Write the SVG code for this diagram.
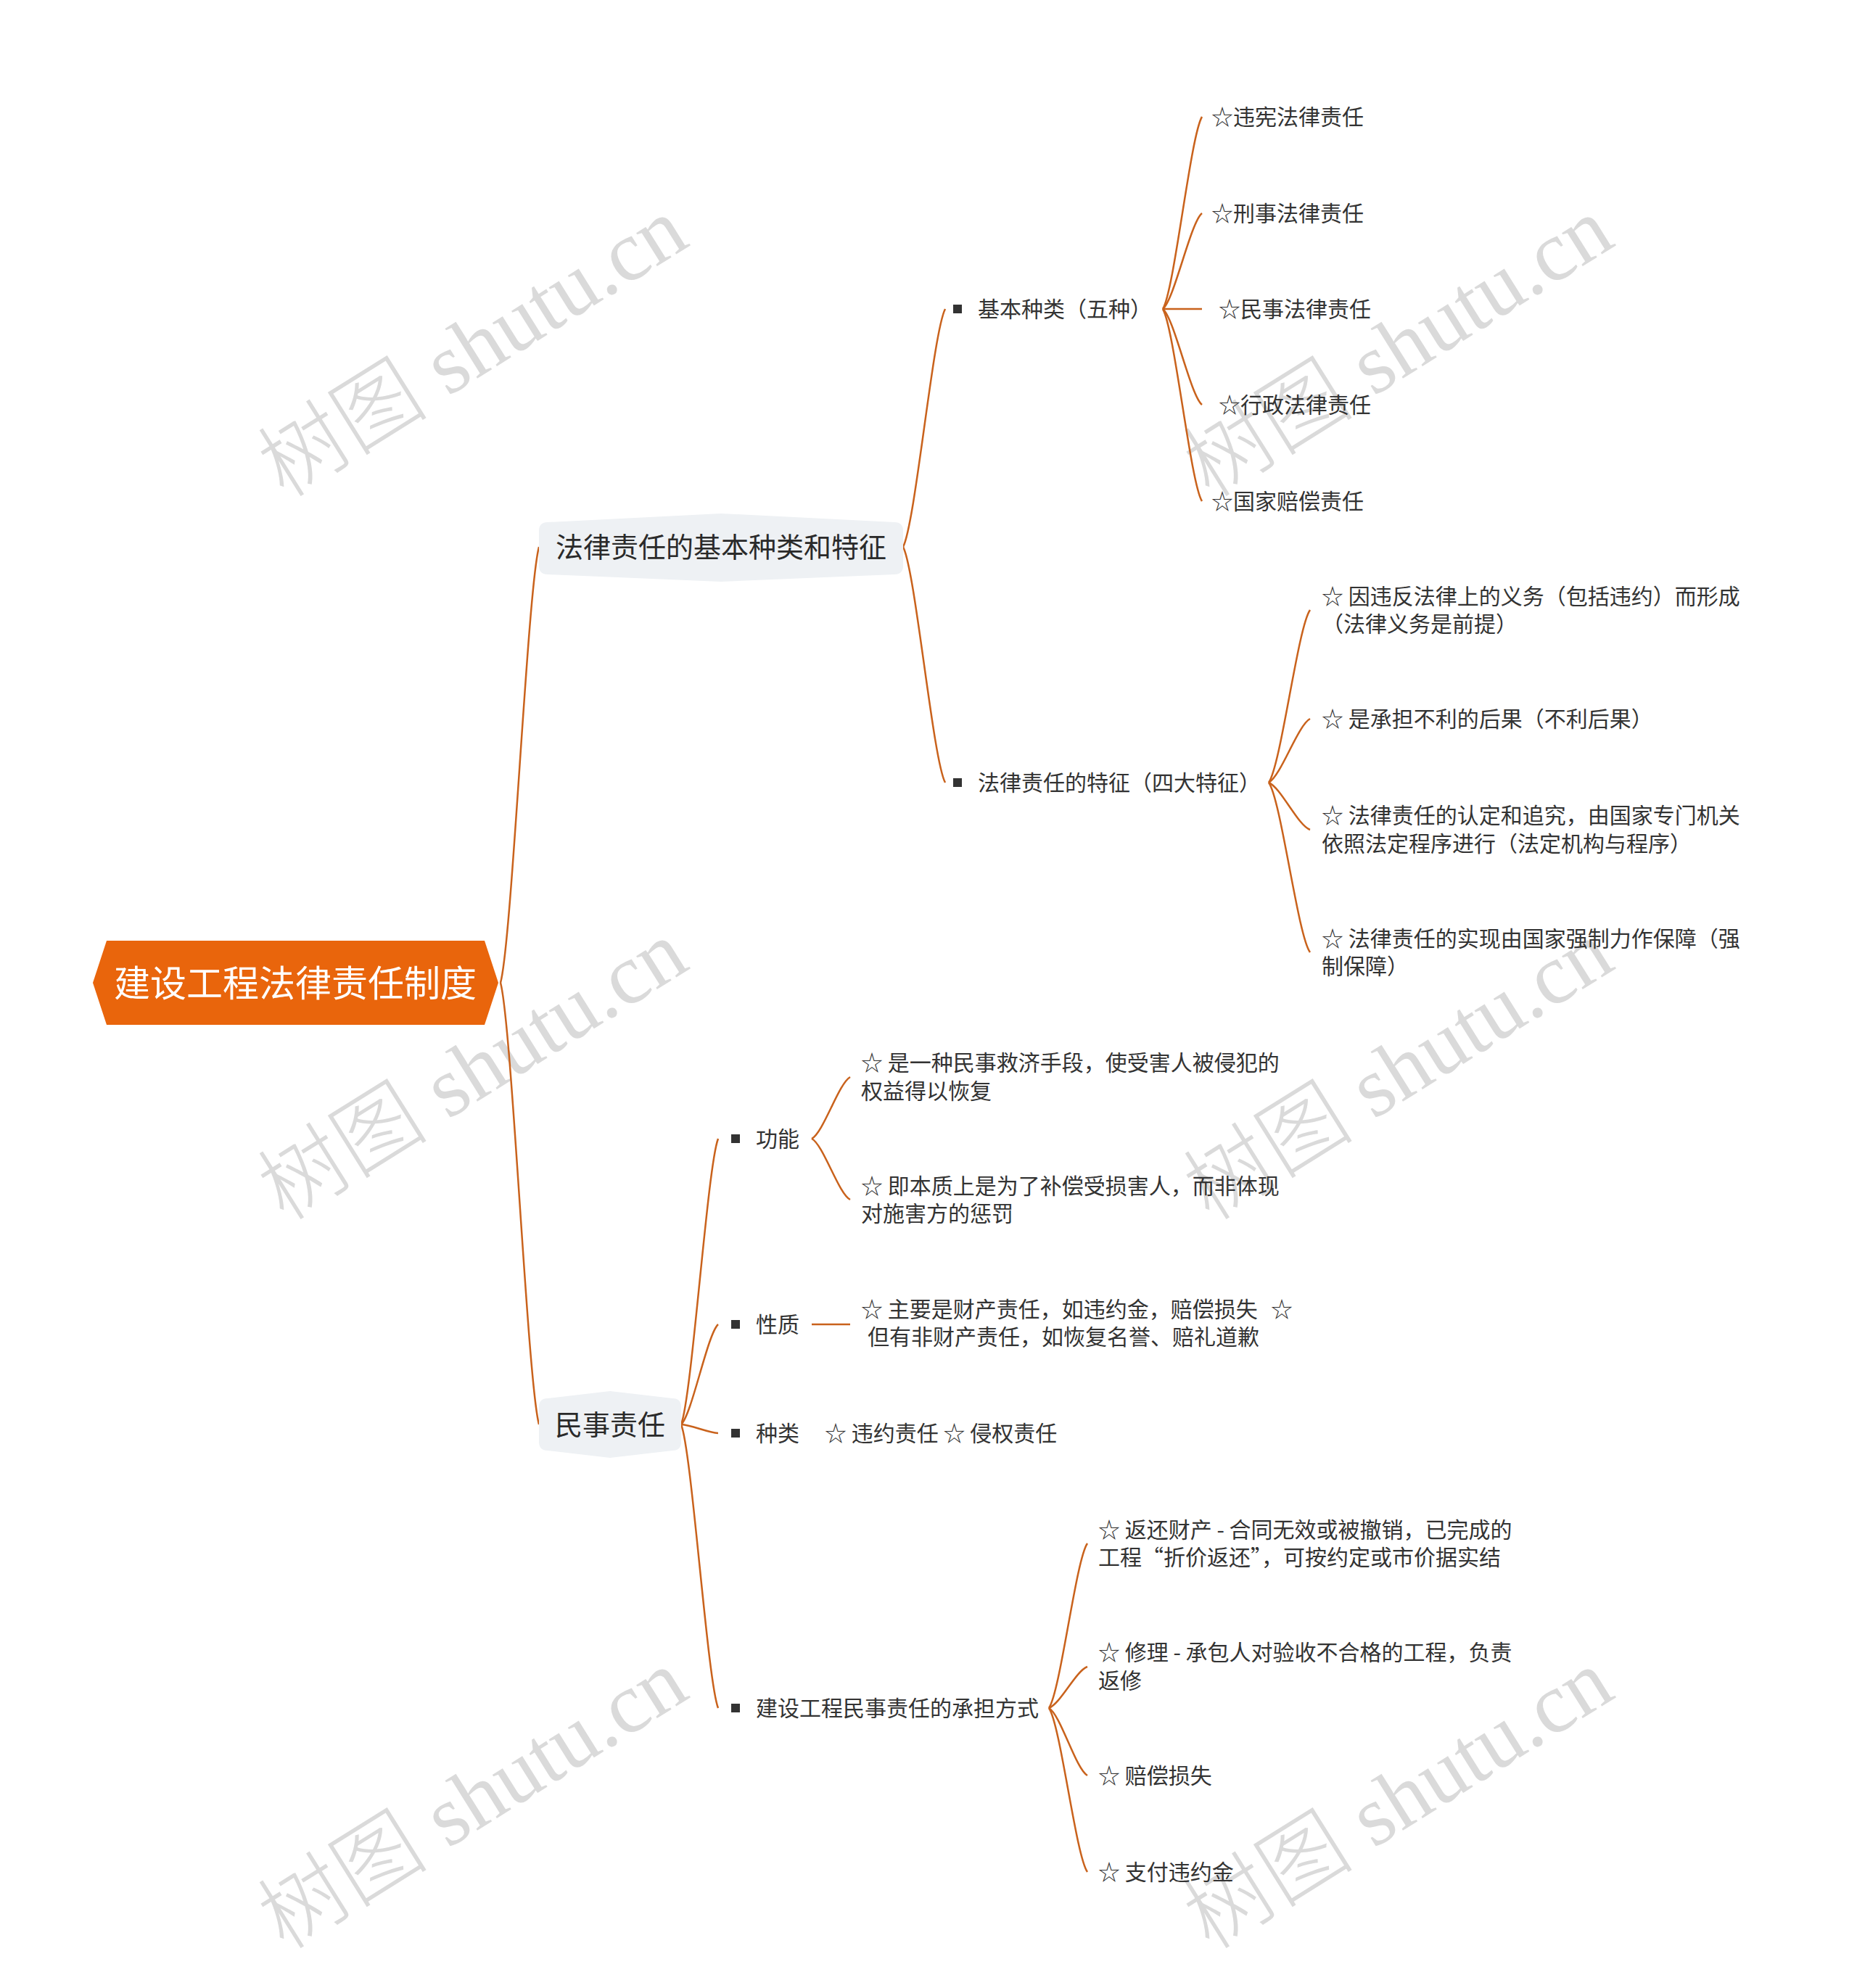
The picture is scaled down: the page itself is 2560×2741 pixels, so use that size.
<svg xmlns="http://www.w3.org/2000/svg" width="2560" height="2741" viewBox="0 0 2560 2741">
<style>
.wm{font-family:"Liberation Serif","Noto Sans CJK SC",serif;font-size:118px;font-weight:300;fill:#dadada}
.t{font-family:"Noto Sans CJK SC","Noto Sans",sans-serif;font-size:30px;fill:#333333}
.l1{font-family:"Noto Sans CJK SC","Noto Sans",sans-serif;font-size:38px;fill:#2a2a2a;text-anchor:middle}
.root{font-family:"Noto Sans CJK SC","Noto Sans",sans-serif;font-size:50px;fill:#ffffff;text-anchor:middle}
.c{fill:none;stroke:#c9621c;stroke-width:2.5}
.b{fill:#333333}
.box{fill:#eef1f4}
</style>
<rect width="2560" height="2741" fill="#ffffff"/>
<g id="watermarks">
<text class="wm" transform="translate(392,688) rotate(-32)">树图 shutu.cn</text>
<text class="wm" transform="translate(392,1685) rotate(-32)">树图 shutu.cn</text>
<text class="wm" transform="translate(392,2690) rotate(-32)">树图 shutu.cn</text>
<text class="wm" transform="translate(1668,688) rotate(-32)">树图 shutu.cn</text>
<text class="wm" transform="translate(1668,1685) rotate(-32)">树图 shutu.cn</text>
<text class="wm" transform="translate(1668,2690) rotate(-32)">树图 shutu.cn</text>
</g>
<g id="connectors">
<path class="c" d="M690,1355 C706,1295 727,814 743,754"/>
<path class="c" d="M690,1355 C706,1416 727,1903 743,1964"/>
<path class="c" d="M1245,754 C1262,721 1286,459 1303,426"/>
<path class="c" d="M1245,754 C1262,787 1286,1047 1303,1079"/>
<path class="c" d="M1603,426 C1619,400 1641,188 1657,161"/>
<path class="c" d="M1603,426 C1619,413 1641,307 1657,294"/>
<path class="c" d="M1603,426 L1657,426"/>
<path class="c" d="M1603,426 C1619,439 1641,545 1657,558"/>
<path class="c" d="M1603,426 C1619,453 1641,665 1657,691"/>
<path class="c" d="M1749,1079 C1766,1055 1789,865 1806,841"/>
<path class="c" d="M1749,1079 C1766,1070 1789,1000 1806,991"/>
<path class="c" d="M1749,1079 C1766,1086 1789,1138 1806,1144"/>
<path class="c" d="M1749,1079 C1766,1102 1789,1290 1806,1313"/>
<path class="c" d="M939,1964 C954,1925 975,1609 990,1570"/>
<path class="c" d="M939,1964 C954,1950 975,1840 990,1826"/>
<path class="c" d="M939,1964 C954,1965 975,1975 990,1976"/>
<path class="c" d="M939,1964 C954,2003 975,2316 990,2355"/>
<path class="c" d="M1119,1570 C1135,1562 1156,1494 1172,1485"/>
<path class="c" d="M1119,1570 C1135,1578 1156,1646 1172,1654"/>
<path class="c" d="M1119,1826 L1172,1826"/>
<path class="c" d="M1446,2355 C1462,2332 1483,2151 1499,2128"/>
<path class="c" d="M1446,2355 C1462,2349 1483,2304 1499,2298"/>
<path class="c" d="M1446,2355 C1462,2364 1483,2439 1499,2448"/>
<path class="c" d="M1446,2355 C1462,2378 1483,2558 1499,2581"/>
</g>
<g id="root">
<polygon points="128,1355 147,1297 668,1297 687,1355 668,1413 147,1413" fill="#e9650c"/>
<text class="root" x="407" y="1374">建设工程法律责任制度</text>
</g>
<g id="n-basic">
<path class="box" d="M743,732 Q743,720 755,720 L994,708 L1233,720 Q1245,720 1245,732 L1245,780 Q1245,792 1233,792 L994,802 L755,792 Q743,792 743,780 Z"/>
<text class="l1" x="994" y="768">法律责任的基本种类和特征</text>
</g>
<g id="n-civil">
<path class="box" d="M743,1940 Q743,1928 755,1928 L841,1918 L927,1928 Q939,1928 939,1940 L939,1988 Q939,2000 927,2000 L841,2010 L755,2000 Q743,2000 743,1988 Z"/>
<text class="l1" x="841" y="1978">民事责任</text>
</g>
<g id="n-kinds"><rect class="b" x="1314" y="420" width="12" height="12"/><text class="t" x="1348" y="437">基本种类（五种）</text></g>
<g id="n-k1"><text class="t" x="1670" y="172">☆违宪法律责任</text></g>
<g id="n-k2"><text class="t" x="1670" y="305">☆刑事法律责任</text></g>
<g id="n-k3"><text class="t" x="1680" y="437">☆民事法律责任</text></g>
<g id="n-k4"><text class="t" x="1680" y="569">☆行政法律责任</text></g>
<g id="n-k5"><text class="t" x="1670" y="702">☆国家赔偿责任</text></g>
<g id="n-feat"><rect class="b" x="1314" y="1073" width="12" height="12"/><text class="t" x="1348" y="1090">法律责任的特征（四大特征）</text></g>
<g id="n-f1"><text class="t" x="1822" y="833">☆ 因违反法律上的义务（包括违约）而形成</text><text class="t" x="1822" y="871">（法律义务是前提）</text></g>
<g id="n-f2"><text class="t" x="1822" y="1002">☆ 是承担不利的后果（不利后果）</text></g>
<g id="n-f3"><text class="t" x="1822" y="1135">☆ 法律责任的认定和追究，由国家专门机关</text><text class="t" x="1822" y="1174">依照法定程序进行（法定机构与程序）</text></g>
<g id="n-f4"><text class="t" x="1822" y="1305">☆ 法律责任的实现由国家强制力作保障（强</text><text class="t" x="1822" y="1343">制保障）</text></g>
<g id="n-func"><rect class="b" x="1008" y="1564" width="12" height="12"/><text class="t" x="1042" y="1581">功能</text></g>
<g id="n-func1"><text class="t" x="1187" y="1476">☆ 是一种民事救济手段，使受害人被侵犯的</text><text class="t" x="1187" y="1515">权益得以恢复</text></g>
<g id="n-func2"><text class="t" x="1187" y="1646">☆ 即本质上是为了补偿受损害人，而非体现</text><text class="t" x="1187" y="1684">对施害方的惩罚</text></g>
<g id="n-nature"><rect class="b" x="1008" y="1820" width="12" height="12"/><text class="t" x="1042" y="1837">性质</text></g>
<g id="n-nature1"><text class="t" x="1187" y="1816">☆ 主要是财产责任，如违约金，赔偿损失<tspan x="1752">☆</tspan></text><text class="t" x="1196" y="1854">但有非财产责任，如恢复名誉、赔礼道歉</text></g>
<g id="n-types"><rect class="b" x="1008" y="1970" width="12" height="12"/><text class="t" x="1042" y="1987">种类</text><text class="t" x="1137" y="1987">☆ 违约责任 ☆ 侵权责任</text></g>
<g id="n-ways"><rect class="b" x="1008" y="2349" width="12" height="12"/><text class="t" x="1042" y="2366">建设工程民事责任的承担方式</text></g>
<g id="n-w1"><text class="t" x="1514" y="2120">☆ 返还财产 - 合同无效或被撤销，已完成的</text><text class="t" x="1514" y="2158">工程“折价返还”，可按约定或市价据实结</text></g>
<g id="n-w2"><text class="t" x="1514" y="2289">☆ 修理 - 承包人对验收不合格的工程，负责</text><text class="t" x="1514" y="2328">返修</text></g>
<g id="n-w3"><text class="t" x="1514" y="2459">☆ 赔偿损失</text></g>
<g id="n-w4"><text class="t" x="1514" y="2592">☆ 支付违约金</text></g>
</svg>
